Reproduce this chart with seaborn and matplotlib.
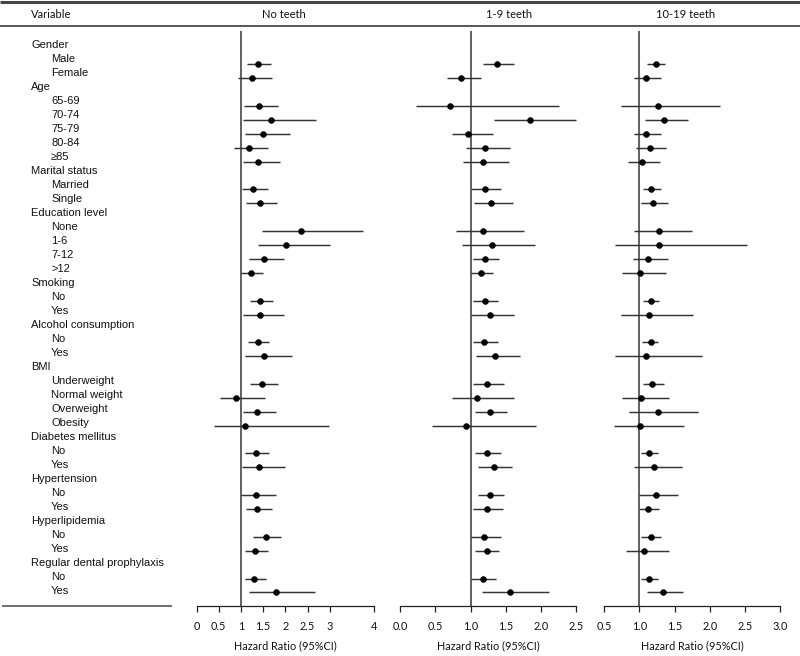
import numpy as np
import pandas as pd
import matplotlib
matplotlib.use("Agg")
import matplotlib.pyplot as plt
import seaborn as sns

# ---------------- data ----------------
variables = ["Gender", "Male", "Female",
             "Age", "65-69", "70-74", "75-79", "80-84", "≥85",
             "Marital status", "Married", "Single",
             "Education level", "None", "1-6", "7-12", ">12",
             "Smoking", "No", "Yes",
             "Alcohol consumption", "No", "Yes",
             "BMI", "Underweight", "Normal weight", "Overweight", "Obesity",
             "Diabetes mellitus", "No", "Yes",
             "Hypertension", "No", "Yes",
             "Hyperlipidemia", "No", "Yes",
             "Regular dental prophylaxis", "No", "Yes"]
is_group = [1, 0, 0,
            1, 0, 0, 0, 0, 0,
            1, 0, 0,
            1, 0, 0, 0, 0,
            1, 0, 0,
            1, 0, 0,
            1, 0, 0, 0, 0,
            1, 0, 0,
            1, 0, 0,
            1, 0, 0,
            1, 0, 0]

panel_titles = ["No teeth", "1-9 teeth", "10-19 teeth"]

hr1 = [1.38, 1.24, 1.41, 1.67, 1.50, 1.17, 1.39, 1.28, 1.42, 2.36, 2.02, 1.51, 1.23,
       1.43, 1.43, 1.38, 1.52, 1.48, 0.89, 1.36, 1.08, 1.33, 1.41, 1.33, 1.36,
       1.56, 1.31, 1.29, 1.78]
lo1 = [1.13, 0.93, 1.07, 1.05, 1.08, 0.85, 1.04, 1.03, 1.11, 1.48, 1.39, 1.18, 1.00,
       1.20, 1.05, 1.16, 1.08, 1.20, 0.52, 1.05, 0.39, 1.10, 1.03, 0.99, 1.12,
       1.26, 1.08, 1.08, 1.17]
hi1 = [1.67, 1.69, 1.84, 2.69, 2.10, 1.60, 1.87, 1.61, 1.82, 3.75, 3.00, 1.96, 1.50,
       1.72, 1.96, 1.64, 2.14, 1.83, 1.54, 1.78, 2.97, 1.63, 1.98, 1.78, 1.69,
       1.91, 1.60, 1.56, 2.66]

hr2 = [1.38, 0.86, 0.71, 1.84, 0.97, 1.20, 1.17, 1.20, 1.29, 1.18, 1.30, 1.21, 1.15,
       1.20, 1.27, 1.19, 1.35, 1.23, 1.09, 1.27, 0.94, 1.24, 1.33, 1.28, 1.23,
       1.19, 1.23, 1.17, 1.56]
lo2 = [1.18, 0.66, 0.23, 1.34, 0.74, 0.93, 0.89, 1.00, 1.05, 0.79, 0.88, 1.04, 1.00,
       1.04, 1.00, 1.03, 1.08, 1.04, 0.74, 1.07, 0.45, 1.07, 1.10, 1.10, 1.04,
       1.00, 1.07, 1.00, 1.16]
hi2 = [1.62, 1.15, 2.26, 2.49, 1.32, 1.56, 1.54, 1.43, 1.60, 1.76, 1.91, 1.40, 1.32,
       1.39, 1.61, 1.39, 1.70, 1.47, 1.61, 1.52, 1.93, 1.43, 1.59, 1.48, 1.46,
       1.43, 1.41, 1.36, 2.11]

hr3 = [1.23, 1.10, 1.26, 1.35, 1.10, 1.15, 1.04, 1.17, 1.20, 1.28, 1.28, 1.13, 1.01,
       1.16, 1.14, 1.16, 1.10, 1.18, 1.03, 1.26, 1.01, 1.14, 1.21, 1.24, 1.13,
       1.17, 1.07, 1.14, 1.34]
lo3 = [1.11, 0.92, 0.74, 1.08, 0.92, 0.96, 0.84, 1.05, 1.02, 0.93, 0.65, 0.91, 0.75,
       1.05, 0.74, 1.04, 0.65, 1.05, 0.76, 0.86, 0.64, 1.02, 0.92, 0.99, 1.00,
       1.03, 0.81, 1.02, 1.11]
hi3 = [1.37, 1.31, 2.14, 1.69, 1.31, 1.38, 1.30, 1.31, 1.40, 1.75, 2.52, 1.41, 1.38,
       1.28, 1.76, 1.27, 1.89, 1.35, 1.42, 1.83, 1.64, 1.27, 1.61, 1.55, 1.28,
       1.31, 1.42, 1.27, 1.62]

ticks1 = [0, 0.5, 1, 1.5, 2, 2.5, 3, 4]
ticklabels1 = ["0", "0.5", "1", "1.5", "2", "2.5", "3", "4"]
ticks2 = [0.0, 0.5, 1.0, 1.5, 2.0, 2.5]
ticklabels2 = ["0.0", "0.5", "1.0", "1.5", "2.0", "2.5"]
ticks3 = [0.5, 1.0, 1.5, 2.0, 2.5, 3.0]
ticklabels3 = ["0.5", "1.0", "1.5", "2.0", "2.5", "3.0"]

xlabel = "Hazard Ratio (95%CI)"

# ---------------- style ----------------
sns.set_style("white")
plt.rcParams['font.family'] = ['Liberation Sans Narrow', 'Liberation Sans', 'DejaVu Sans']
head_font = ['Lato', 'DejaVu Sans']

W, H = 800, 656
fig = plt.figure(figsize=(W / 100, H / 100), dpi=100)

# background axes in pixel coordinates for the table part
bg = fig.add_axes([0, 0, 1, 1])
bg.set_xlim(0, W)
bg.set_ylim(H, 0)
bg.axis("off")

line_col = "#555555"
bg.hlines(1.5, 0, W, color="#444444", lw=2.2)
bg.hlines(26, 0, W, color=line_col, lw=1.4)
bg.hlines(605.5, 2, 172, color=line_col, lw=1.2)

bg.text(31, 14, "Variable", ha="left", va="center", fontsize=8,
        family=head_font, color="#111111")
title_x = [284, 509, 686]
for t, tx in zip(panel_titles, title_x):
    bg.text(tx, 14, t, ha="center", va="center", fontsize=8,
            family=head_font, color="#111111")

# row labels
for i, (lab, g) in enumerate(zip(variables, is_group)):
    y = 45 + i * 14.0
    x = 31 if g else 51
    bg.text(x, y, lab, ha="left", va="center", fontsize=8, color="#111111")

# ---------------- forest panels ----------------
n_rows = len(variables)
row_pos = np.arange(1, n_rows + 1)
sub_pos = [r for r, g in zip(row_pos, is_group) if not g]

panels = [
    (hr1, lo1, hi1, (0, 4), ticks1, ticklabels1, 196.5, 374.3),
    (hr2, lo2, hi2, (0, 2.5), ticks2, ticklabels2, 400.0, 576.3),
    (hr3, lo3, hi3, (0.5, 3.0), ticks3, ticklabels3, 604.0, 780.4),
]

top_px, bot_px = 31.0, 606.0
# row r sits at pixel 50.4 + (r-1)*13.9
y_top = (top_px - 50.4) / 13.9 + 1
y_bot = (bot_px - 50.4) / 13.9 + 1

for hr, lo, hi, xl, tks, tkl, x0, x1 in panels:
    ax = fig.add_axes([x0 / W, (H - bot_px) / H, (x1 - x0) / W, (bot_px - top_px) / H])
    df = pd.DataFrame({"row": sub_pos, "hr": hr, "lo": lo, "hi": hi})
    ax.hlines(df["row"], df["lo"], df["hi"], color="#333333", lw=1.05, zorder=2,
              clip_on=False)
    sns.scatterplot(data=df, x="hr", y="row", ax=ax, color="black", s=19,
                    edgecolor="black", linewidth=0.3, legend=False, zorder=3,
                    clip_on=False)
    ax.axvline(1, color=line_col, lw=1.3, zorder=1)
    ax.set_xlim(*xl)
    ax.set_ylim(y_bot, y_top)
    ax.set_yticks([])
    ax.set_ylabel("")
    for s in ["top", "right", "left"]:
        ax.spines[s].set_visible(False)
    ax.spines["bottom"].set_color("#222222")
    ax.spines["bottom"].set_linewidth(0.9)
    ax.spines["bottom"].set_bounds(tks[0], tks[-1])
    ax.set_xticks(tks)
    ax.set_xticklabels(tkl, family=head_font, fontsize=7.8, color="#111111")
    ax.tick_params(axis="x", direction="out", length=4, width=0.9,
                   color="#222222", pad=7, bottom=True)
    ax.set_xlabel(xlabel, family=head_font, fontsize=7.8, color="#111111",
                  labelpad=6)
    ax.patch.set_alpha(0)

fig.savefig("out.png", dpi=100)
